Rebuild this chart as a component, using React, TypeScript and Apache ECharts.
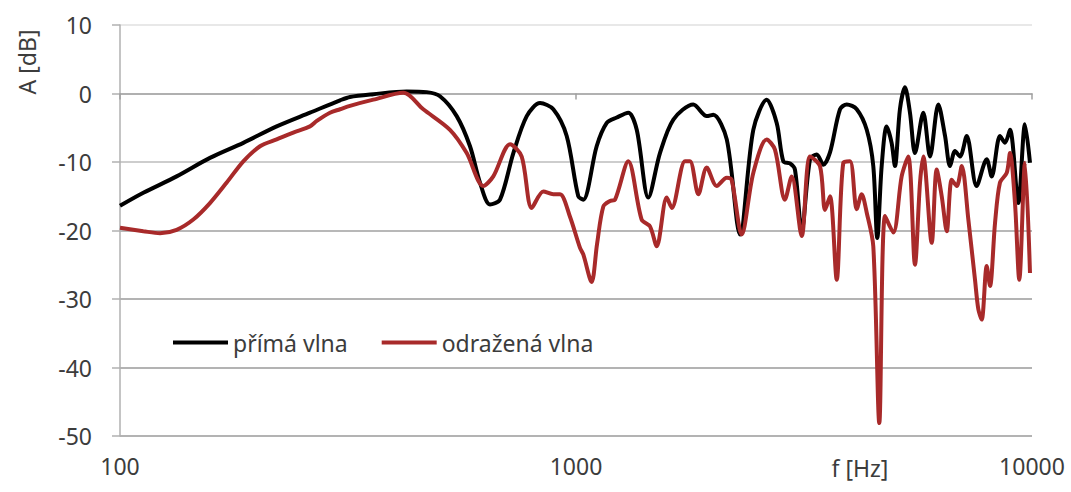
import React, { useEffect, useRef } from "react";
import * as echarts from "echarts";

// Přímá vlna (direct wave): frequency [Hz] and level [dB]
const primaFreq = [
  100, 112.5, 133.1, 157.5, 186.4, 220.6, 261.0, 303.8, 319.4, 359.4, 425.3, 470.5, 503.2,
  547.5, 585.5, 615.8, 647.7, 681.3, 728.8, 779.8, 834.0, 891.8, 954.1, 1011.6, 1037.5,
  1110, 1168, 1228.5, 1302, 1359, 1441, 1528, 1635, 1808, 1935, 2000, 2141, 2289, 2448,
  2619, 2755, 2849, 2946, 3021, 3126, 3260, 3373, 3487, 3606, 3793, 3924, 4127, 4341,
  4487, 4578, 4681, 4800, 4922, 5005, 5133, 5265, 5400, 5538, 5776, 5975, 6231, 6446,
  6611, 6779, 6953, 7192, 7560, 7956, 8159, 8507, 8726, 8948, 9333, 9652, 9899,
];
const primaVal = [
  -16.4, -14.5, -12.1, -9.4, -7.2, -4.8, -2.8, -1.0, -0.5, -0.1, 0.3, 0.2, -0.4,
  -3.3, -7.7, -13.0, -16.2, -15.5, -8.7, -3.3, -1.4, -2.3, -6.2, -15.0, -15.5,
  -7.7, -4.3, -3.5, -2.8, -5.3, -15.2, -8.7, -3.8, -1.6, -3.3, -3.1, -6.7, -20.6, -5.3,
  -0.9, -4.3, -9.9, -10.2, -11.1, -20.0, -9.6, -8.9, -10.4, -8.6, -2.3, -1.6, -2.3, -5.3,
  -10.6, -21.1, -10.6, -4.8, -7.2, -10.6, -2.3, 0.9, -2.8, -8.7, -2.8, -9.2, -1.6, -6.2,
  -10.6, -8.4, -9.2, -6.2, -13.5, -9.6, -12.1, -6.2, -7.2, -5.3, -16.0, -4.5, -10.1,
];

// Odražená vlna (reflected wave): frequency [Hz] and level [dB]
const odrazFreq = [
  100, 112.5, 122.4, 133.1, 144.8, 157.5, 171.4, 186.4, 202.8, 220.6, 239.9, 261.0, 270.1,
  288.7, 303.8, 319.4, 359.4, 418.1, 462.5, 529.2, 575.9, 626.3, 658.6, 716.8, 760.2,
  799.8, 848.0, 891.8, 922.5, 970.1, 1020, 1037.5, 1082, 1112, 1148, 1187.5, 1218, 1302,
  1393, 1453, 1503, 1581, 1622, 1734, 1778, 1855, 1935, 2035, 2141, 2194, 2309, 2448,
  2619, 2731, 2872, 2972, 3126, 3260, 3428, 3517, 3606, 3730, 3857, 3990, 4127, 4231,
  4341, 4487, 4625, 4761, 4964, 5178, 5354, 5538, 5681, 5776, 6026, 6180, 6339, 6502,
  6668, 6839, 7014, 7251, 7499, 7626, 7757, 7956, 8089, 8297, 8507, 8801, 8948, 9177,
  9378, 9652, 9899,
];
const odrazVal = [
  -19.6, -20.1, -20.4, -19.9, -18.4, -16.0, -13.0, -9.9, -7.7, -6.7, -5.7, -4.8, -4.0,
  -2.8, -2.3, -1.8, -0.9, 0.1, -2.3, -5.3, -8.7, -13.5, -12.1, -7.4, -9.2,
  -16.7, -14.3, -14.7, -14.7, -18.0, -22.5, -23.5, -27.5, -22.0, -16.5, -15.7, -15.5, -9.9,
  -18.4, -19.4, -22.3, -15.2, -16.7, -9.9, -9.9, -14.7, -10.8, -13.5, -12.3, -12.6, -20.6, -11.6,
  -6.7, -8.2, -15.5, -12.1, -20.8, -9.2, -10.6, -17.0, -15.0, -27.2, -10.1, -9.9, -16.9, -14.7,
  -17.4, -22.3, -48.1, -17.9, -20.3, -12.1, -9.2, -25.0, -13.0, -9.2, -21.8, -11.1, -15.0, -20.1,
  -12.6, -13.5, -10.6, -18.4, -27.2, -31.5, -33.0, -25.2, -28.1, -18.9, -13.0, -11.6, -8.7, -16.0,
  -27.2, -10.1, -26.2,
];

const yTicks = [-50, -40, -30, -20, -10, 0, 10];
const xTicks = [100, 1000, 10000];
const seriesNames = ["přímá vlna", "odražená vlna"];

const FONT = "'Noto Sans', 'DejaVu Sans', sans-serif";
const TEXT = "#3c3c3c";

export default function App() {
  const ref = useRef<HTMLDivElement>(null);

  useEffect(() => {
    if (!ref.current) return;
    const chart = echarts.init(ref.current, null, { renderer: "svg" });
    const prima = primaFreq.map((f, i) => [f, primaVal[i]]);
    const odraz = odrazFreq.map((f, i) => [f, odrazVal[i]]);
    chart.setOption({
      animation: false,
      backgroundColor: "#ffffff",
      textStyle: { fontFamily: FONT },
      grid: { left: 120, right: 39, top: 25, bottom: 56 },
      legend: {
        data: seriesNames,
        left: 168,
        top: 326,
        icon: "rect",
        itemWidth: 55,
        itemHeight: 4,
        itemGap: 34,
        textStyle: { fontFamily: FONT, fontSize: 23, color: TEXT },
      },
      xAxis: {
        type: "log",
        logBase: 10,
        min: 100,
        max: 10000,
        axisLine: { lineStyle: { color: "#a0a0a0", width: 1.5 } },
        axisTick: { show: true, length: 6, lineStyle: { color: "#a0a0a0", width: 1.5 } },
        splitLine: { show: false },
        minorTick: { show: false },
        axisLabel: {
          margin: 18,
          fontSize: 23,
          color: TEXT,
          fontFamily: FONT,
          formatter: (v: number) => (xTicks.includes(Math.round(v)) ? String(Math.round(v)) : ""),
        },
      },
      yAxis: {
        type: "value",
        min: yTicks[0],
        max: yTicks[yTicks.length - 1],
        interval: 10,
        axisLine: { show: true, lineStyle: { color: "#b0b0b0", width: 1.5 } },
        axisTick: { show: true, length: 8, lineStyle: { color: "#b0b0b0", width: 1.5 } },
        splitLine: {
          show: true,
          lineStyle: {
            color: ["#9a9a9a", "#9a9a9a", "#9a9a9a", "#a0a0a0", "#bdbdbd", "#d9d9d9", "#e0e0e0"],
            width: 1.5,
          },
        },
        axisLabel: { margin: 28, fontSize: 23, color: TEXT, fontFamily: FONT },
      },
      graphic: [
        {
          type: "text",
          x: 27,
          y: 62,
          rotation: Math.PI / 2,
          style: {
            text: "A [dB]",
            fontSize: 23,
            fontFamily: FONT,
            fill: TEXT,
            textAlign: "center",
            textVerticalAlign: "middle",
          },
        },
        {
          type: "text",
          x: 860,
          y: 468,
          style: {
            text: "f [Hz]",
            fontSize: 23,
            fontFamily: FONT,
            fill: TEXT,
            textAlign: "center",
            textVerticalAlign: "middle",
          },
        },
      ],
      series: [
        {
          name: seriesNames[0],
          type: "line",
          data: prima,
          showSymbol: false,
          smooth: 0.3,
          lineStyle: { color: "#000000", width: 4 },
          itemStyle: { color: "#000000" },
          z: 3,
        },
        {
          name: seriesNames[1],
          type: "line",
          data: odraz,
          showSymbol: false,
          smooth: 0.3,
          lineStyle: { color: "#a82a2a", width: 4 },
          itemStyle: { color: "#a82a2a" },
          z: 4,
        },
      ],
    });
    return () => chart.dispose();
  }, []);

  return (
    <div
      ref={ref}
      style={{ position: "fixed", left: 0, top: 0, width: 1071, height: 492 }}
    />
  );
}
